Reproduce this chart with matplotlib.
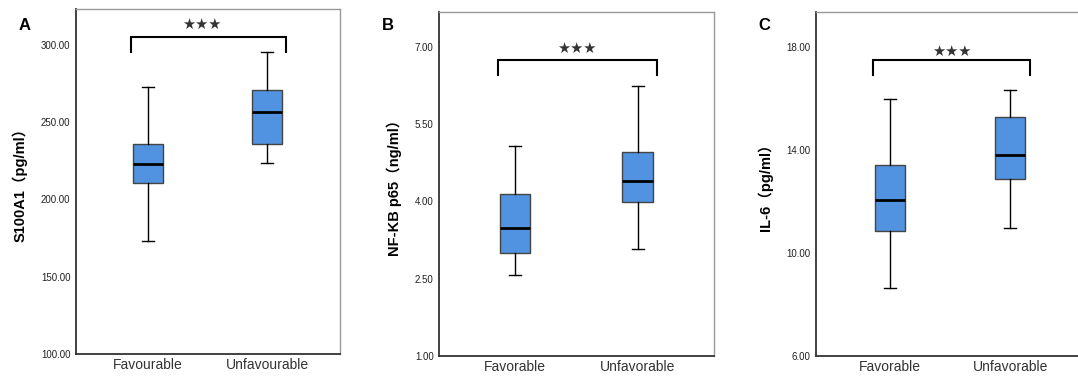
import matplotlib
matplotlib.use("Agg")
import matplotlib.pyplot as plt

# dane (whisker low, Q1, median, Q3, whisker high)
groups_a = ["Favourable", "Unfavourable"]
groups_bc = ["Favorable", "Unfavorable"]

s100_low = [172.8, 223.7]
s100_q1 = [210.3, 235.8]
s100_med = [222.8, 256.5]
s100_q3 = [235.8, 270.4]
s100_high = [272.4, 295.0]

nfkb_low = [2.58, 3.08]
nfkb_q1 = [2.99, 3.98]
nfkb_med = [3.48, 4.40]
nfkb_q3 = [4.14, 4.96]
nfkb_high = [5.08, 6.24]

il6_low = [8.64, 10.97]
il6_q1 = [10.86, 12.86]
il6_med = [12.07, 13.81]
il6_q3 = [13.41, 15.26]
il6_high = [15.98, 16.33]

yticks_a = [100, 150, 200, 250, 300]
yticks_b = [1.0, 2.5, 4.0, 5.5, 7.0]
yticks_c = [6.0, 10.0, 14.0, 18.0]

font = ['Liberation Sans', 'Noto Sans CJK SC', 'DejaVu Sans']
box_color = '#5193e1'

fig = plt.figure(figsize=(10.78, 3.77), dpi=100)
ax1 = fig.add_axes([0.0705, 0.061, 0.2449, 0.915])
ax2 = fig.add_axes([0.4075, 0.0557, 0.2548, 0.913])
ax3 = fig.add_axes([0.7567, 0.0557, 0.2477, 0.913])

panels = [
    (ax1, groups_a, (s100_low, s100_q1, s100_med, s100_q3, s100_high), yticks_a,
     (100, 323), (295.0, 304.7, 312.9, 1.45), 'S100A1（pg/ml）', -0.182, 'A', (0.4, 2.61)),
    (ax2, groups_bc, (nfkb_low, nfkb_q1, nfkb_med, nfkb_q3, nfkb_high), yticks_b,
     (1.0, 7.68), (6.45, 6.74, 6.97, 1.5), 'NF-KB p65（ng/ml）', -0.136, 'B', (0.383, 2.62)),
    (ax3, groups_bc, (il6_low, il6_q1, il6_med, il6_q3, il6_high), yticks_c,
     (6.0, 19.36), (16.89, 17.48, 17.83, 1.51), 'IL-6（pg/ml）', -0.16, 'C', (0.386, 2.6)),
]

for ax, groups, (lo, q1, med, q3, hi), yt, ylim, (b0, b1, sy, sx), ylab, lx, letter, xlim in panels:
    stats = []
    for i in range(2):
        stats.append(dict(whislo=lo[i], q1=q1[i], med=med[i], q3=q3[i], whishi=hi[i], fliers=[]))
    ax.bxp(stats, positions=[1, 2], widths=0.25, patch_artist=True, showfliers=False,
           boxprops=dict(facecolor=box_color, edgecolor='#444444', linewidth=1),
           medianprops=dict(color='black', linewidth=2),
           whiskerprops=dict(color='black', linewidth=1),
           capprops=dict(color='black', linewidth=1), capwidths=0.1)
    ax.set_xlim(*xlim)
    ax.set_ylim(*ylim)
    ax.set_yticks(yt)
    ax.set_yticklabels([f'{v:.2f}' for v in yt], fontsize=7, color='#222222', family=font)
    ax.set_xticks([1, 2])
    ax.set_xticklabels(groups, fontsize=10, color='#333333', family=font)
    ax.tick_params(length=0, pad=4)
    ax.tick_params(axis='x', pad=3)
    ax.set_ylabel(ylab, fontsize=10.5, fontweight='bold', family=font)
    ax.yaxis.set_label_coords(lx, 0.5)
    for s in ['left', 'bottom']:
        ax.spines[s].set_color('#333333')
        ax.spines[s].set_linewidth(1.3)
    for s in ['top', 'right']:
        ax.spines[s].set_color('#999999')
        ax.spines[s].set_linewidth(1)
    # nawias istotnosci
    ax.plot([0.86, 0.86, 2.16, 2.16], [b0, b1, b1, b0], color='black', linewidth=1.5,
            solid_joinstyle='miter')
    ax.text(sx, sy, '★★★', ha='center', va='center', fontsize=10.5, color='#333333',
            family='DejaVu Sans')
    bb = ax.get_position()
    fig.text(bb.x0 - 0.048, 0.933, letter, fontsize=12, fontweight='bold', family=font,
             ha='center', va='center')

fig.savefig('out.png', dpi=100)
